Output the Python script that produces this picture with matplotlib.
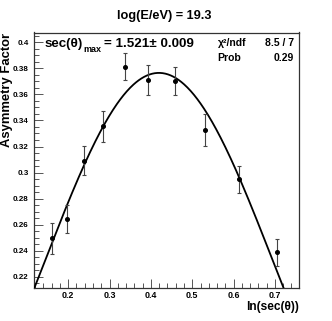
import numpy as np
import matplotlib
matplotlib.use("Agg")
import matplotlib.pyplot as plt
from matplotlib.ticker import MultipleLocator, FixedLocator

# ---------------- data ----------------
ln_sec = [0.160, 0.197, 0.238, 0.284, 0.337, 0.394, 0.459, 0.532, 0.614, 0.706]
asym = [0.2495, 0.2642, 0.3092, 0.3354, 0.3813, 0.3708, 0.3703, 0.3326, 0.2949, 0.2388]
asym_err = [0.0118, 0.0106, 0.0110, 0.0116, 0.0104, 0.0116, 0.0104, 0.0124, 0.0102, 0.0102]

# Gaussian fit parameters
fit_amp = 0.3765
fit_mean = np.log(1.521)
fit_sigma = 0.2805

title = "log(E/eV) = 19.3"
xlabel = "ln(sec(\u03b8))"
ylabel = "Asymmetry Factor"
stat_rows = [("\u03c7\u00b2/ndf", "8.5 / 7"), ("Prob", "0.29")]

xticks = [0.2, 0.3, 0.4, 0.5, 0.6, 0.7]
yticks = [0.22, 0.24, 0.26, 0.28, 0.30, 0.32, 0.34, 0.36, 0.38, 0.40]

plt.rcParams['font.family'] = ['Liberation Sans', 'DejaVu Sans']
plt.rcParams['font.weight'] = 'bold'

W, H = 332, 321
fig = plt.figure(figsize=(W / 100, H / 100), dpi=100)
L, R, T, B = 33.5, 299.3, 32.5, 288.3
ax = fig.add_axes([L / W, 1 - B / H, (R - L) / W, (B - T) / H])
ax.set_xlim(0.116, 0.759)
ax.set_ylim(0.2112, 0.4075)

xs = np.linspace(0.116, 0.759, 400)
ys = fit_amp * np.exp(-0.5 * ((xs - fit_mean) / fit_sigma) ** 2)
ax.plot(xs, ys, color='black', lw=1.3, zorder=3)

ax.errorbar(ln_sec, asym, yerr=asym_err, fmt='o', color='black', ms=2.6,
            ecolor='#444444', elinewidth=0.8, capsize=1.2, capthick=0.8, zorder=4)

ax.xaxis.set_major_locator(FixedLocator(xticks))
ax.xaxis.set_minor_locator(MultipleLocator(0.02))
ax.yaxis.set_major_locator(FixedLocator(yticks))
ax.yaxis.set_minor_locator(MultipleLocator(0.005))
ax.set_xticklabels([f"{v:g}" for v in xticks])
ax.set_yticklabels([f"{v:g}" for v in yticks])
ax.tick_params(which='both', direction='in', top=False, right=False,
               color='#555555', width=0.7)
ax.tick_params(axis='x', labelsize=6.4, pad=2.2)
ax.tick_params(axis='y', labelsize=5.8, pad=3.5)
ax.tick_params(which='major', length=6.5)
ax.tick_params(which='minor', length=3.3)
for lab in ax.get_xticklabels() + ax.get_yticklabels():
    lab.set_fontweight('bold')
for s in ax.spines.values():
    s.set_linewidth(0.9)
    s.set_color('#333333')

def fx(px):
    return px / W
def fy(py):
    return 1 - py / H

fig.text(fx(164), fy(16), title, ha='center', va='center', fontsize=9.2, fontweight='bold')
fig.text(fx(299.3), fy(307), xlabel, ha='right', va='center', fontsize=8.6, fontweight='bold')
fig.text(fx(6.6), fy(32.5), ylabel, ha='center', va='top', rotation=90, fontsize=9.4, fontweight='bold')

# main fit annotation
fig.canvas.draw()
r = fig.canvas.get_renderer()
t1 = fig.text(fx(45), fy(47), "sec(\u03b8)", ha='left', va='baseline', fontsize=9.6, fontweight='bold')
bb = t1.get_window_extent(r)
x_px = bb.x1 + 0.5
t2 = fig.text(x_px / W, fy(51.5), "max", ha='left', va='baseline', fontsize=6.5, fontweight='bold')
bb2 = t2.get_window_extent(r)
t3 = fig.text((bb2.x1 + 2) / W, fy(47), "= 1.521\u00b1 0.009", ha='left', va='baseline',
              fontsize=9.6, fontweight='bold')

for i, (k, v) in enumerate(stat_rows):
    yy = 46 + i * 15
    fig.text(fx(217.5), fy(yy), k, ha='left', va='baseline', fontsize=7.5, fontweight='bold')
    fig.text(fx(294), fy(yy), v, ha='right', va='baseline', fontsize=7.5, fontweight='bold')

fig.savefig("out.png", dpi=100)
